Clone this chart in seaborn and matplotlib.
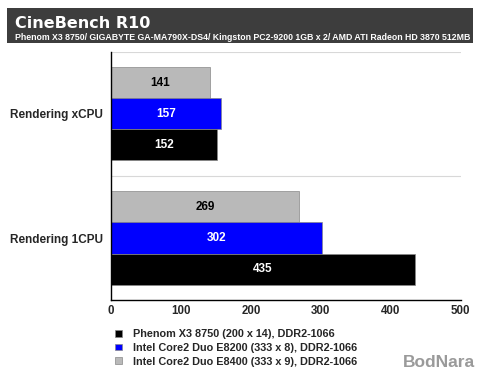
import pandas as pd
import numpy as np
import matplotlib
matplotlib.use("Agg")
import matplotlib.pyplot as plt
import seaborn as sns
from matplotlib.patches import Rectangle, Patch

# DATA
tests = ["Rendering xCPU", "Rendering 1CPU"]
systems = ["Phenom X3 8750 (200 x 14), DDR2-1066",
           "Intel Core2 Duo E8200 (333 x 8), DDR2-1066",
           "Intel Core2 Duo E8400 (333 x 9), DDR2-1066"]
phenom = [152, 435]
e8200 = [157, 302]
e8400 = [141, 269]
colors = {systems[0]: "#000000", systems[1]: "#0000ff", systems[2]: "#b9b9b9"}
x_ticks = [0, 100, 200, 300, 400, 500]

df = pd.DataFrame({
    "test": tests * 3,
    "system": [systems[0]] * 2 + [systems[1]] * 2 + [systems[2]] * 2,
    "score": phenom + e8200 + e8400,
})

sns.set_style("white")
plt.rcParams["font.family"] = ["Liberation Sans", "DejaVu Sans"]
plt.rcParams["font.weight"] = "bold"

fig = plt.figure(figsize=(4.8, 3.76), dpi=100)
fig.patch.set_facecolor("white")

# TITLE BOX
fig.patches.append(Rectangle((0.0146, 0.886), 0.971, 0.093, transform=fig.transFigure,
                             facecolor="#3d3d3d", edgecolor="none"))
fig.text(0.031, 0.937, "CineBench R10", color="white", fontsize=11.5, fontweight="bold",
         va="center", family=["DejaVu Sans"])
fig.text(0.031, 0.901, "Phenom X3 8750/ GIGABYTE GA-MA790X-DS4/ Kingston PC2-9200 1GB x 2/ AMD ATI Radeon HD 3870 512MB",
         color="white", fontsize=6.3, fontweight="bold", va="center")

ax = fig.add_axes([0.231, 0.202, 0.729, 0.660])
order = [systems[2], systems[1], systems[0]]
sns.barplot(data=df, y="test", x="score", hue="system", hue_order=order, order=tests,
            palette=colors, orient="h", width=0.75, saturation=1, edgecolor="#888888",
            linewidth=0.5, ax=ax, legend=False)

# value labels
for cont, sys_name in zip(ax.containers, order):
    txt_color = "black" if sys_name == systems[2] else "white"
    ax.bar_label(cont, label_type="center", color=txt_color, fontsize=8.5, fontweight="bold")

ax.set_xlim(0, 500)
ax.set_ylim(1.5, -0.5)
ax.set_xticks(x_ticks)
ax.set_yticks([-0.5, 0.5, 1.5], minor=True)
ax.axhline(-0.5, color="#d8d8d8", lw=0.8)
ax.axhline(0.5, color="#d8d8d8", lw=0.8)
ax.tick_params(axis="y", which="major", length=0, labelsize=8.5, pad=6)
ax.tick_params(axis="y", which="minor", length=3, width=1, direction="out", color="black")
ax.tick_params(axis="x", length=3, width=1, direction="inout", labelsize=8.3, pad=2)
for lab in ax.get_xticklabels() + ax.get_yticklabels():
    lab.set_fontweight("bold")
ax.set_xlabel("")
ax.set_ylabel("")
sns.despine(ax=ax, top=True, right=True)
ax.spines["left"].set_color("black")
ax.spines["bottom"].set_color("black")
ax.spines["left"].set_linewidth(1)
ax.spines["bottom"].set_linewidth(1)

# LEGEND
handles = [Patch(facecolor=colors[s], edgecolor="#888888", linewidth=0.5) for s in systems]
fig.legend(handles, systems, loc="upper left", bbox_to_anchor=(0.24, 0.125), frameon=False,
           fontsize=7.8, handlelength=0.6, handleheight=0.6, handletextpad=1.0, labelspacing=0.35,
           borderaxespad=0, borderpad=0)

# watermark
fig.text(0.99, 0.015, "BodNara", color="#9a9a9a", fontsize=12.5, fontweight="bold", ha="right", va="bottom")

fig.savefig("out.png", dpi=100)
